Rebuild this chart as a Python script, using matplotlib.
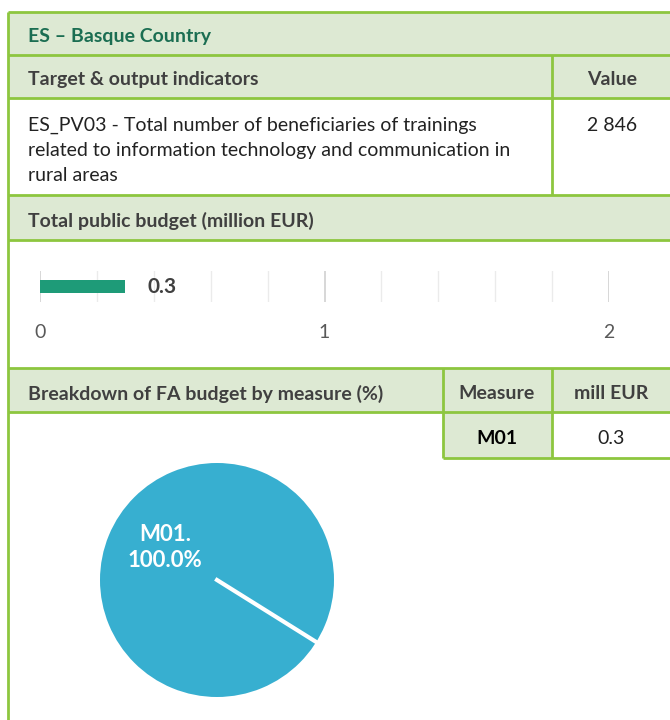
import matplotlib.pyplot as plt
from matplotlib.patches import Rectangle
import numpy as np

plt.rcParams['font.family'] = ['Lato', 'DejaVu Sans']

# data
region = 'ES – Basque Country'
indicator_lines = ['ES_PV03 - Total number of beneficiaries of trainings',
                   'related to information technology and communication in',
                   'rural areas']
indicator_value = '2 846'
total_budget = [0.3]
budget_ticks = [0, 1, 2]
measures = ['M01']
measure_budget = [0.3]
measure_share = [100.0]

W, H = 670, 720
green = '#8DC63F'
fill = '#DDE9D3'
txt = '#404040'

fig = plt.figure(figsize=(W / 100, H / 100), dpi=100)
bg = fig.add_axes([0, 0, 1, 1])
bg.set_xlim(0, W)
bg.set_ylim(H, 0)
bg.axis('off')

# shaded cells
for x0, y0, x1, y1 in [(8, 12, W, 55), (8, 55, W, 98), (8, 195, W, 240),
                       (8, 368, W, 412), (443, 412, 552, 458)]:
    bg.add_patch(Rectangle((x0, y0), x1 - x0, y1 - y0, fc=fill, ec='none'))

# borders
lw = 2
for y, x0 in [(12, 8), (55, 8), (98, 8), (195, 8), (240, 8), (368, 8), (412, 8), (458, 443)]:
    bg.plot([x0, W], [y, y], color=green, lw=lw, solid_capstyle='butt')
for x, y0, y1 in [(8, 12, H), (552, 55, 195), (443, 368, 458), (552, 368, 458)]:
    bg.plot([x, x], [y0, y1], color=green, lw=lw, solid_capstyle='butt')

fs = 14
kw = dict(fontsize=fs, va='center_baseline')
bg.text(28, 35, region, fontweight='bold', color='#1B6E52', **kw)
bg.text(28, 78, 'Target & output indicators', fontweight='bold', color=txt, **kw)
bg.text(612, 78, 'Value', fontweight='bold', color=txt, ha='center', **kw)
for i, line in enumerate(indicator_lines):
    bg.text(28, 124 + 25 * i, line, color='#222222', **kw)
bg.text(612, 124, indicator_value, color='#222222', ha='center', **kw)
bg.text(28, 219, 'Total public budget (million EUR)', fontweight='bold', color=txt, **kw)
bg.text(28, 392, 'Breakdown of FA budget by measure (%)', fontweight='bold', color=txt, **kw)
bg.text(497, 392, 'Measure', fontweight='bold', color=txt, ha='center', **kw)
bg.text(611, 392, 'mill EUR', fontweight='bold', color=txt, ha='center', **kw)
for m, v in zip(measures, measure_budget):
    bg.text(497, 437, m, fontweight='bold', color='black', ha='center', **kw)
    bg.text(611, 437, f'{v}', color='#222222', ha='center', **kw)

# budget bar
bx = fig.add_axes([40 / W, 1 - 302 / H, 569 / W, 31 / H])
bx.set_facecolor('none')
bx.barh([0], total_budget, height=0.4, color='#1E9B78', zorder=3)
bx.set_xlim(0, 2)
bx.set_ylim(-0.5, 0.5)
bx.set_xticks(budget_ticks)
bx.set_xticks(np.arange(0, 2.01, 0.2), minor=True)
bx.grid(axis='x', which='minor', color='#EBEBEB', lw=1)
bx.grid(axis='x', which='major', color='#D4D4D4', lw=1.3)
bx.tick_params(axis='x', which='both', length=0, pad=16, labelsize=14, labelcolor='#595959')
bx.set_yticks([])
for s in bx.spines.values():
    s.set_visible(False)
for v in total_budget:
    bx.annotate(f'{v}', (v, 0), xytext=(16, 0), textcoords='offset points',
                va='center', fontsize=15, fontweight='bold', color=txt)

# pie
r = 117
px = fig.add_axes([(217 - r) / W, 1 - (580 + r) / H, 2 * r / W, 2 * r / H])
wedges, texts, autotexts = px.pie(
    measure_share, colors=['#37AFD0'], startangle=-32, radius=1,
    autopct=lambda p: f'{measures[0]}.\n{p:.1f}%', pctdistance=0.52,
    textprops=dict(color='white', fontsize=16, fontweight='bold'))
for t in autotexts:
    t.set_linespacing(1.3)
th = np.deg2rad(wedges[0].theta1)
px.plot([0, np.cos(th)], [0, np.sin(th)], color='white', lw=3)
px.set_xlim(-1, 1)
px.set_ylim(-1, 1)

fig.savefig('out.png', dpi=100)
